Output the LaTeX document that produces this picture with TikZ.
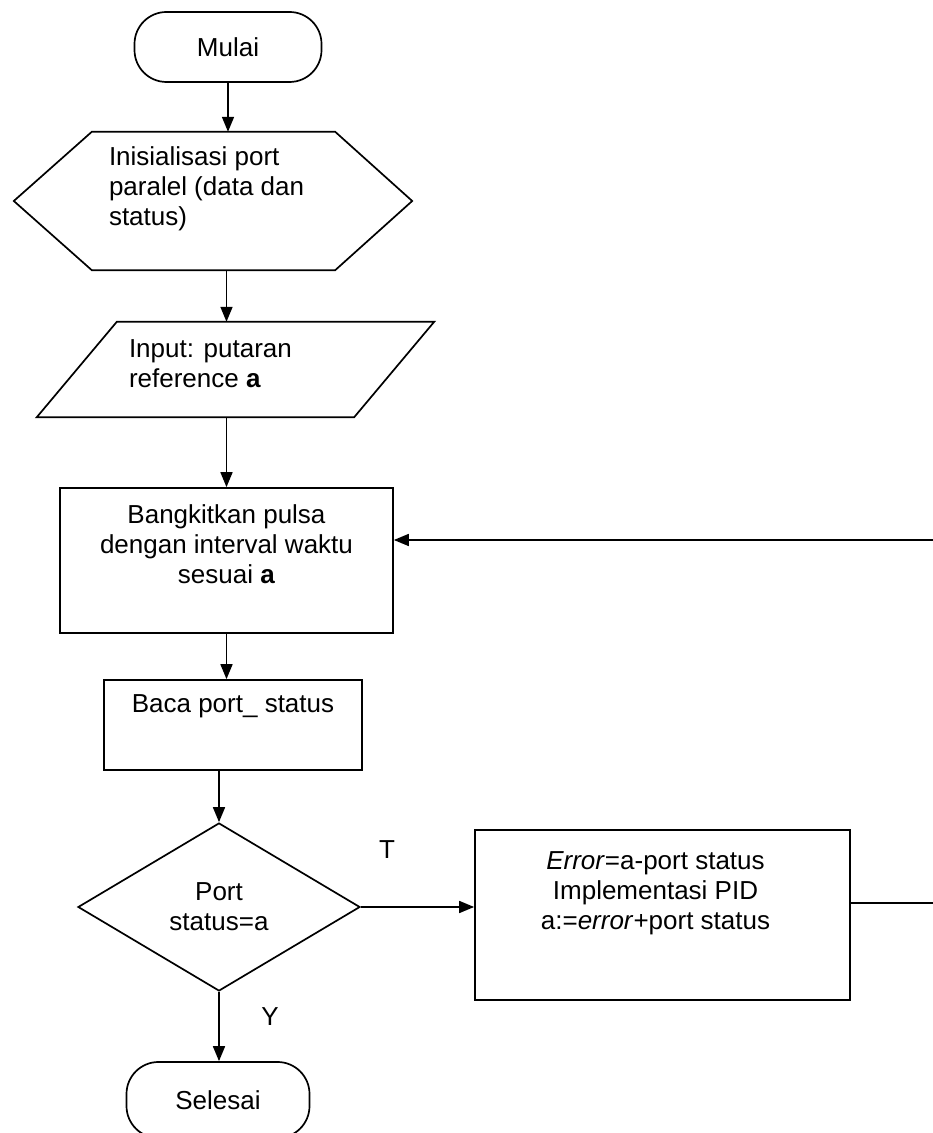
\documentclass[tikz,border=0pt]{standalone}
\usepackage{fontspec}
\setmainfont{Liberation Sans}
\usetikzlibrary{shapes.geometric,arrows.meta,positioning,calc}
\tikzset{
  flowfont/.style={font=\fontsize{26}{30}\selectfont},
  termnode/.style={rectangle, rounded corners=32pt, draw, line width=1.7pt,
                   minimum height=70pt, inner sep=0pt, flowfont},
  frame/.style={rectangle, draw=none, inner sep=0pt},
  procbox/.style={rectangle, draw, line width=1.7pt, inner sep=0pt},
  decbox/.style={diamond, draw, line width=1.7pt, aspect=1.7, inner sep=0pt,
                 minimum width=282pt, minimum height=168pt, flowfont, align=center},
  txt/.style={inner sep=0pt, flowfont},
  arr/.style={-{Triangle[length=15pt,width=12pt]}, line width=1.7pt},
  lbl/.style={inner sep=0pt, flowfont},
}
\begin{document}
\begin{tikzpicture}[x=1pt,y=1pt]
  \useasboundingbox (0,0) rectangle (933,1133);
  \clip (0,0) rectangle (933,1133);
  % Start
  \node[termnode, minimum width=187pt] (start) at (228,1086) {Mulai};
  % Initialisation (hexagon)
  \node[frame, minimum width=243pt, minimum height=138pt] (init) at (213.5,932) {};
  \draw[line width=1.7pt] (init.north west) -- (init.north east) -- ([xshift=77pt]init.east)
    -- (init.south east) -- (init.south west) -- ([xshift=-78pt]init.west) -- cycle;
  \node[txt, align=left, anchor=north west] (initTxt) at ([xshift=17pt,yshift=-15pt]init.north west)
    {Inisialisasi port\\paralel (data dan\\status)};
  % Input (parallelogram)
  \node[frame, minimum width=317pt, minimum height=95pt] (input) at (235.5,763.5) {};
  \draw[line width=1.7pt] ([xshift=40pt]input.north west) -- ([xshift=40pt]input.north east)
    -- ([xshift=-40pt]input.south east) -- ([xshift=-40pt]input.south west) -- cycle;
  \node[txt, align=left, anchor=north west] (inputTxt) at ([xshift=52pt,yshift=-18pt]input.north west)
    {Input: putaran\\reference \textbf{a}};
  % Pulse generation
  \node[procbox, minimum width=333pt, minimum height=145pt] (pulse) at (226.5,572.5) {};
  \node[txt, align=center, below=17pt of pulse.north] (pulseTxt)
    {Bangkitkan pulsa\\dengan interval waktu\\sesuai \textbf{a}};
  % Read status
  \node[procbox, minimum width=258pt, minimum height=90pt] (baca) at (233,408) {};
  \node[txt, below=15pt of baca.north] (bacaTxt) {Baca port\_ status};
  % Decision
  \node[decbox] (dec) at (219,226) {Port\\status=a};
  % PID step
  \node[procbox, minimum width=375pt, minimum height=170pt] (proc) at (662.5,218) {};
  \node[txt, align=center, below=22pt of proc.north, xshift=-7pt] (procTxt)
    {\textit{Error}=a-port status\\Implementasi PID\\a:=\textit{error}+port status};
  % End (cut by the page edge)
  \node[termnode, minimum width=183pt, minimum height=76pt] (stop) at (218,33) {Selesai};
  % Connectors
  \draw[arr] (start.south) -- (start.south |- init.north);
  \draw[arr] (pulse.north |- init.south) -- (pulse.north |- input.north);
  \draw[arr] (pulse.north |- input.south) -- (pulse.north);
  \draw[arr] (pulse.south) -- (pulse.south |- baca.north);
  \draw[arr] (dec.north |- baca.south) -- (dec.north);
  \draw[arr] (dec.south) -- (dec.south |- stop.north);
  \draw[arr] (dec.east) -- (dec.east -| proc.west);
  \draw[arr] ([yshift=12pt]proc.east) -- ++(100pt,0) |- ([yshift=20.5pt]pulse.east);
  % Branch labels
  \node[lbl] (lblT) at (387,283) {T};
  \node[lbl] (lblY) at (270,116) {Y};
\end{tikzpicture}
\end{document}
